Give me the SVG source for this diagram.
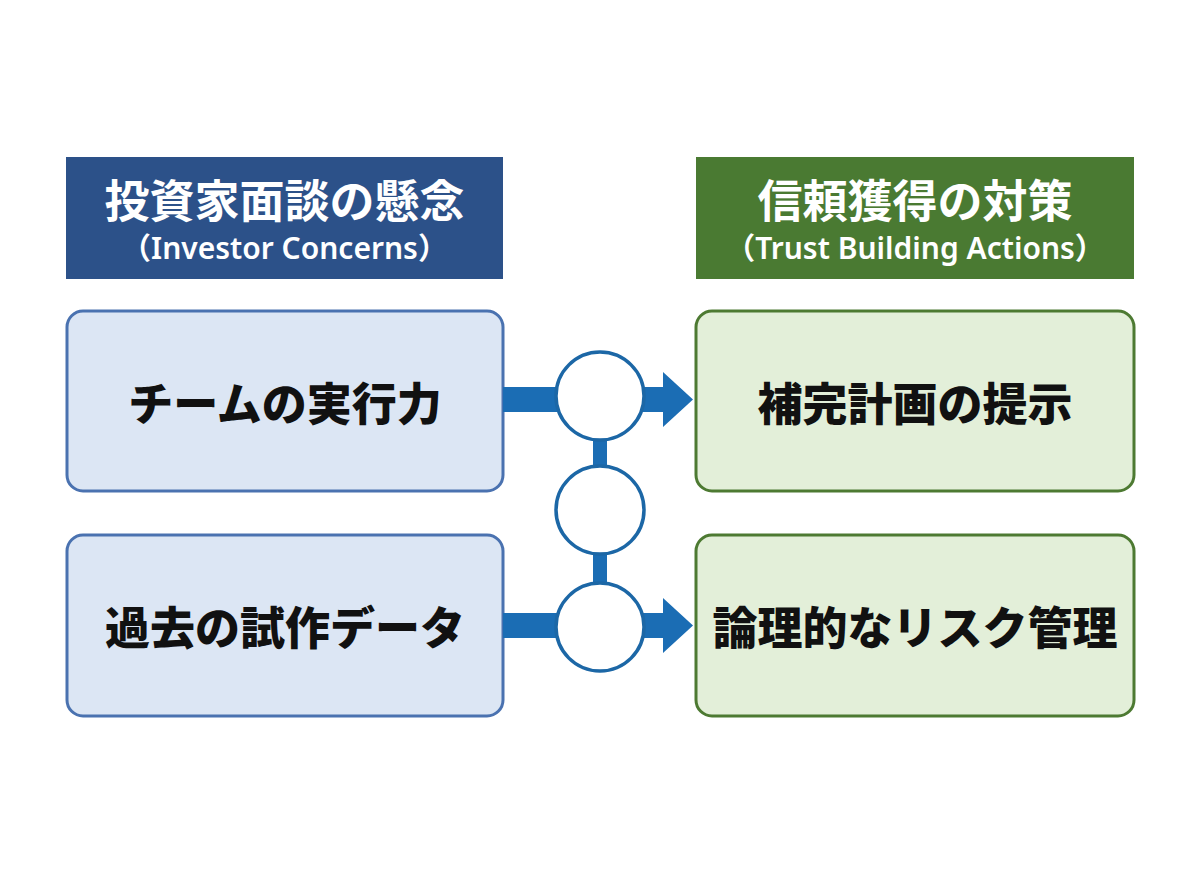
<svg xmlns="http://www.w3.org/2000/svg" width="1200" height="896" viewBox="0 0 1200 896">
<style>
.ttl{font-family:"Noto Sans CJK JP","Noto Sans",sans-serif;font-weight:700;fill:#ffffff;text-anchor:middle}
.sub{font-family:"Noto Sans","Noto Sans CJK JP",sans-serif;font-weight:600;fill:#ffffff;text-anchor:middle}
.lbl{font-family:"Noto Sans CJK JP",sans-serif;font-weight:900;fill:#111111;text-anchor:middle}
.bl{fill:#dce6f4;stroke:#4a72b0;stroke-width:3}
.gr{fill:#e3efd9;stroke:#4d7a32;stroke-width:3}
.circ{fill:#ffffff;stroke:#1c67a6;stroke-width:3.5}
.conn{fill:#1b6db4}
</style>
<rect width="1200" height="896" fill="#ffffff"/>
<g id="header-left">
<rect x="66" y="157" width="437" height="122" fill="#2c5189"/>
<text class="ttl" x="284.5" y="218" font-size="45">投資家面談の懸念</text>
<text class="sub" x="284.5" y="259" font-size="30">（Investor Concerns）</text>
</g>
<g id="header-right">
<rect x="696" y="157" width="438" height="122" fill="#4a7a32"/>
<text class="ttl" x="915" y="218" font-size="45">信頼獲得の対策</text>
<text class="sub" x="915" y="259" font-size="30">（Trust Building Actions）</text>
</g>
<g id="node-team">
<rect class="bl" x="67" y="311" width="436" height="180" rx="16"/>
<text class="lbl" x="285" y="421" font-size="45">チームの実行力</text>
</g>
<g id="node-past">
<rect class="bl" x="67" y="535" width="436" height="181" rx="16"/>
<text class="lbl" x="285" y="645" font-size="45">過去の試作データ</text>
</g>
<g id="node-plan">
<rect class="gr" x="696" y="311" width="438" height="180" rx="16"/>
<text class="lbl" x="915" y="421" font-size="45">補完計画の提示</text>
</g>
<g id="node-risk">
<rect class="gr" x="696" y="535" width="438" height="181" rx="16"/>
<text class="lbl" x="915" y="645" font-size="45">論理的なリスク管理</text>
</g>
<g id="connectors">
<rect class="conn" x="503" y="387" width="60" height="25"/>
<polygon class="conn" points="638,387 663,387 663,372 693,399.5 663,427 663,412 638,412"/>
<rect class="conn" x="503" y="613" width="60" height="25"/>
<polygon class="conn" points="638,613 663,613 663,598 693,625.5 663,653 663,638 638,638"/>
<rect class="conn" x="593" y="438" width="14" height="30"/>
<rect class="conn" x="593" y="552" width="14" height="34"/>
</g>
<g id="circle-1"><circle class="circ" cx="600" cy="396" r="44"/></g>
<g id="circle-2"><circle class="circ" cx="600" cy="510" r="44"/></g>
<g id="circle-3"><circle class="circ" cx="600" cy="627" r="44"/></g>
</svg>
